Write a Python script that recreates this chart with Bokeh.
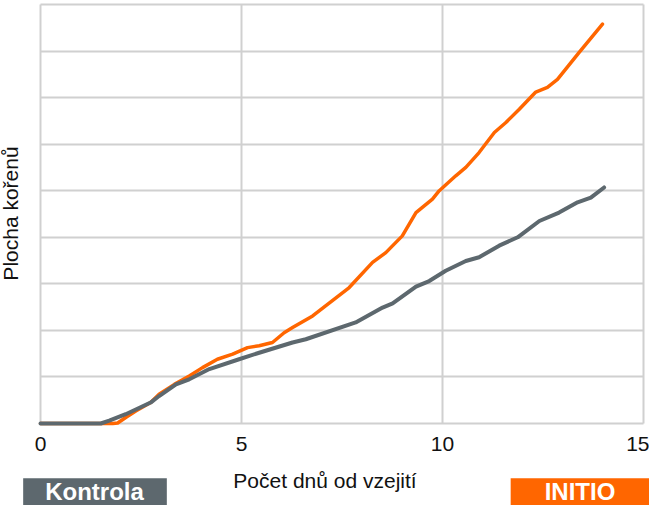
import math
from bokeh.plotting import figure
from bokeh.models import FixedTicker, Label, Range1d, LinearAxis, Grid
from bokeh.embed import file_html
from bokeh.resources import INLINE

# Data
initio_days = [0, 1.8, 1.92, 2.12, 2.37, 2.74, 2.95, 3.33, 3.70, 4.03, 4.40, 4.78, 5.15,
               5.44, 5.77, 6.06, 6.27, 6.77, 7.68, 8.26, 8.59, 9.00, 9.34, 9.75, 9.92,
               10.33, 10.58, 10.91, 11.29, 11.57, 11.91, 12.32, 12.61, 12.86, 13.40, 13.98]
initio_area = [0, 0, 0.01, 0.13, 0.27, 0.45, 0.63, 0.84, 1.02, 1.20, 1.38, 1.49, 1.63,
               1.67, 1.74, 1.95, 2.06, 2.31, 2.92, 3.46, 3.67, 4.03, 4.53, 4.82, 5.00,
               5.32, 5.50, 5.82, 6.25, 6.46, 6.75, 7.12, 7.22, 7.39, 7.97, 8.58]

kontrola_days = [0, 1.5, 1.71, 2.12, 2.74, 2.95, 3.37, 3.70, 4.20, 4.94, 5.44, 6.27, 6.60,
                 7.84, 8.51, 8.76, 9.34, 9.67, 10.08, 10.58, 10.91, 11.41, 11.87, 12.41,
                 12.90, 13.36, 13.69, 14.02]
kontrola_area = [0, 0, 0.06, 0.20, 0.45, 0.59, 0.84, 0.95, 1.17, 1.38, 1.52, 1.74, 1.81,
                 2.17, 2.49, 2.58, 2.94, 3.06, 3.28, 3.49, 3.57, 3.82, 4.00, 4.35,
                 4.53, 4.75, 4.85, 5.07]

x_ticks = [0, 5, 10, 15]
y_grid = [0, 1, 2, 3, 4, 5, 6, 7, 8, 9]

x_label = "Počet dnů od vzejití"
y_label = "Plocha kořenů"
series_names = ["Kontrola", "INITIO"]

ORANGE = "#ff6600"
GREY = "#5d686e"
GRID = "#d0d0d0"
FONT = "Liberation Sans"

W, H = 649, 505
# plot area inside the canvas (pixels): left, right, top, bottom
FL, FR, FT, FB = 40, 643, 4, 423
x0, x1 = x_ticks[0], x_ticks[-1]
y0, y1 = y_grid[0], y_grid[-1]
sx = (FR - FL) / (x1 - x0)
sy = (FB - FT) / (y1 - y0)

p = figure(width=W, height=H, output_backend="svg", toolbar_location=None,
           x_axis_location=None, y_axis_location=None,
           x_range=Range1d(x0 - FL / sx, x1 + (W - FR) / sx),
           y_range=Range1d(y0 - (H - FB) / sy, y1 + FT / sy),
           min_border=0, min_border_left=0, min_border_right=0,
           min_border_top=0, min_border_bottom=0)

# drop the default grids; add grids limited to the data area
p.xgrid.visible = False
p.ygrid.visible = False
p.outline_line_color = None
p.background_fill_color = "white"
p.border_fill_color = "white"

p.add_layout(Grid(dimension=0, ticker=FixedTicker(ticks=x_ticks), cross_bounds=(y0, y1),
                  grid_line_color=GRID, grid_line_width=2))
p.add_layout(Grid(dimension=1, ticker=FixedTicker(ticks=y_grid), cross_bounds=(x0, x1),
                  grid_line_color=GRID, grid_line_width=2))

p.line(initio_days, initio_area, line_color=ORANGE, line_width=3.5,
       line_join="round", line_cap="round")
p.line(kontrola_days, kontrola_area, line_color=GREY, line_width=4,
       line_join="round", line_cap="round")

# x axis at y = 0
xaxis = LinearAxis(fixed_location=y0, ticker=FixedTicker(ticks=x_ticks),
                   axis_line_color=None, major_tick_line_color=None,
                   minor_tick_line_color=None, major_tick_out=0, major_tick_in=0,
                   major_label_standoff=13, major_label_text_font=FONT,
                   major_label_text_font_size="21px", major_label_text_color="#111111",
                   axis_label=x_label, axis_label_text_font=FONT,
                   axis_label_text_font_size="21px", axis_label_text_font_style="normal",
                   axis_label_text_color="#111111", axis_label_standoff=15)
p.add_layout(xaxis, "below")

# y axis title (no tick labels in the reference)
p.add_layout(Label(x=10, y=H - 213, x_units="screen", y_units="screen", text=y_label,
                   angle=math.pi / 2, text_font=FONT, text_font_size="21px",
                   text_color="#111111", text_align="center", text_baseline="middle"))

# legend boxes below the chart
for name, color, cx, pl, pr in [(series_names[0], GREY, 94.5, 22, 23),
                                (series_names[1], ORANGE, 582.5, 34, 40)]:
    lab = Label(x=cx, y=6.75, x_units="screen", y_units="screen", text=name,
                text_font=FONT, text_font_size="24px", text_font_style="bold",
                text_color="white", text_align="center", text_baseline="middle",
                background_fill_color=color,
                padding=dict(left=pl, right=pr, top=0, bottom=14))
    p.add_layout(lab)

open("out.html", "w").write(file_html(p, INLINE))
